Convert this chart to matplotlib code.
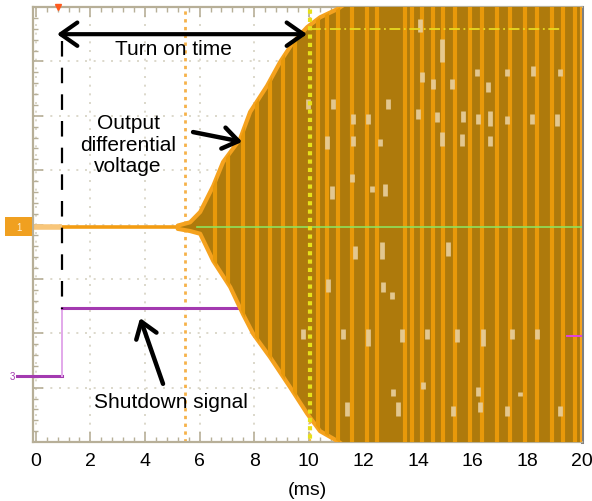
import numpy as np
import matplotlib
matplotlib.use("Agg")
import matplotlib.pyplot as plt
from matplotlib.patches import Polygon, Rectangle
from matplotlib.ticker import MultipleLocator

plt.rcParams['font.family'] = ['Liberation Sans', 'DejaVu Sans']

# ---------------- data (time in ms, vertical in scope divisions) ----------------
xtick_values = [0, 2, 4, 6, 8, 10, 12, 14, 16, 18, 20]
x_label = "(ms)"

# output differential voltage envelope
env_up_t = [5.2, 5.65, 6.02, 6.50, 6.86, 7.48, 7.85, 8.47, 8.95, 9.42, 9.94, 10.41, 11.04, 11.4, 20.0]
env_up_v = [-0.02, 0.04, 0.23, 0.71, 1.15, 1.57, 2.07, 2.55, 2.99, 3.35, 3.63, 3.81, 3.96, 4.08, 4.08]
env_lo_t = [5.2, 5.65, 6.02, 6.50, 7.12, 7.59, 7.96, 8.58, 9.31, 9.94, 10.41, 11.04, 11.33, 20.0]
env_lo_v = [-0.08, -0.12, -0.17, -0.67, -1.15, -1.65, -2.01, -2.44, -2.99, -3.48, -3.80, -3.98, -4.08, -4.08]

baseline_t = [-0.1, 5.6]
baseline_v = -0.05

# bright aliasing stripes inside the envelope
stripe_t = [6.57, 7.04, 7.59, 8.11, 8.58, 9.06, 9.50, 10.34, 10.67, 11.07, 11.59, 12.14,
            12.51, 13.53, 13.78, 14.15, 14.55, 14.92, 15.36, 15.91, 16.35, 16.90, 17.38,
            17.92, 18.36, 18.91, 19.32, 19.75]

# light spots inside the envelope
patch_t = [9.97, 10.89, 11.62, 12.17, 10.67, 11.62, 12.61, 12.90, 10.85, 11.58, 12.32, 12.79,
           10.71, 11.70, 12.68, 12.72, 13.05, 15.10, 14.08, 14.88, 14.15, 14.55, 15.25, 16.16,
           16.57, 17.26, 18.22, 19.20, 14.00, 14.70, 15.65, 16.20, 16.64, 17.26, 18.18, 19.09,
           14.88, 15.61, 16.64, 9.79, 11.26, 12.17, 13.42, 14.33, 15.43, 16.38, 17.45, 18.36,
           11.40, 13.27, 15.29, 16.27, 17.26, 19.20, 13.09, 14.19, 16.20, 17.74]
patch_top = [2.31, 2.31, 2.03, 2.03, 1.63, 1.63, 1.57, 2.31, 0.71, 0.93, 0.71, 0.74,
             -1.00, -0.40, -0.32, -1.06, -1.24, -0.32, 3.78, 3.41, 2.80, 2.67, 2.67, 2.86,
             2.62, 2.86, 2.91, 2.86, 2.12, 2.07, 2.09, 2.03, 2.09, 1.99, 2.03, 2.03,
             1.70, 1.66, 1.63, -1.92, -1.92, -1.92, -1.92, -1.92, -1.92, -1.92, -1.92, -1.92,
             -3.26, -3.26, -3.34, -3.26, -3.34, -3.34, -3.02, -2.90, -2.99, -3.08]
patch_bot = [2.12, 2.12, 1.85, 1.85, 1.39, 1.44, 1.44, 2.12, 0.47, 0.78, 0.60, 0.52,
             -1.24, -0.63, -0.63, -1.24, -1.37, -0.58, 3.54, 2.99, 2.62, 2.49, 2.49, 2.73,
             2.44, 2.73, 2.73, 2.73, 1.94, 1.88, 1.88, 1.85, 1.81, 1.85, 1.85, 1.81,
             1.44, 1.44, 1.44, -2.10, -2.10, -2.23, -2.16, -2.10, -2.16, -2.23, -2.10, -2.10,
             -3.52, -3.52, -3.52, -3.45, -3.52, -3.52, -3.15, -3.02, -3.15, -3.15]

# shutdown signal (step)
sd_t = [-0.1, 0.97, 0.97, 7.4]
sd_v = [-2.79, -2.79, -1.535, -1.535]

# cursors / markers
cursor_orange_t = 5.47
cursor_yellow_t = 10.05
cursor_h_v = 3.59
cursor_h_t = [10.05, 19.2]
enable_line_t = 0.97
enable_line_v = [3.37, -1.55]

# annotations
turn_on_arrow_t = [0.78, 9.93]
turn_on_arrow_v = 3.50
turn_on_text = "Turn on time"
turn_on_text_pos = (5.03, 3.23)
out_text = "Output\ndifferential\nvoltage"
out_text_pos = (3.38, 1.48)
out_arrow_tail = (5.76, 1.70)
out_arrow_head = (7.56, 1.52)
sd_text = "Shutdown signal"
sd_text_pos = (4.96, -3.26)
sd_arrow_tail = (4.66, -2.93)
sd_arrow_head = (3.82, -1.72)

# ---------------- colours ----------------
C_DARK = '#AE7A0C'
C_EDGE = '#F5A21E'
C_STRIPE = '#E8990A'
C_LIGHT = '#E6CC98'
C_PURPLE = '#A33AB0'
C_FRAME = '#B7AF98'

# ---------------- figure ----------------
fig = plt.figure(figsize=(5.92, 5.02), dpi=100)
ax = fig.add_axes([33 / 592, 59 / 502, 549 / 592, 435 / 502])
ax.set_xlim(-0.1, 20.0)
ax.set_ylim(-4.0, 4.0)

# grid
ax.set_xticks(xtick_values)
ax.set_yticks(np.arange(-4, 5, 1))
ax.xaxis.set_minor_locator(MultipleLocator(0.4))
ax.yaxis.set_minor_locator(MultipleLocator(0.2))
ax.grid(True, which='major', color='#D6D2C2', linestyle=(0, (1.2, 4)), lw=1.2, zorder=0)
ax.set_axisbelow(True)
ax.set_yticklabels([])
ax.tick_params(axis='both', which='both', direction='in', color=C_FRAME,
               top=True, bottom=True, left=True, right=False)
ax.tick_params(axis='both', which='major', length=7, width=1.2)
ax.tick_params(axis='both', which='minor', length=3.5, width=1.0)
ax.tick_params(axis='x', which='major', labelsize=14, pad=7)
ax.tick_params(axis='y', which='both', labelleft=False)
for s in ['left', 'top', 'bottom']:
    ax.spines[s].set_color(C_FRAME)
    ax.spines[s].set_linewidth(1.6)
ax.spines['right'].set_color('#7E7E7E')
ax.spines['right'].set_linewidth(2.2)
ax.set_xlabel(x_label, fontsize=14, labelpad=9)

# orange cursor
ax.axvline(cursor_orange_t, color='#F6B24A', lw=2.0, linestyle=(0, (1.2, 1.6)), zorder=1)

# baseline trace before turn-on
ax.plot(baseline_t, [baseline_v, baseline_v], color='#F39C12', lw=2.6, zorder=2,
        solid_capstyle='butt')
ax.plot([-0.1, 0.97], [baseline_v, baseline_v], color='#F8C67A', lw=4, zorder=2,
        solid_capstyle='butt')

# shutdown signal
ax.plot(sd_t[0:2], sd_v[0:2], color=C_PURPLE, lw=2.2, zorder=2)
ax.plot(sd_t[1:3], sd_v[1:3], color='#E2A8EA', lw=1.4, zorder=2)
ax.plot(sd_t[2:4], sd_v[2:4], color=C_PURPLE, lw=2.2, zorder=2)

# envelope
poly_xy = np.column_stack([np.concatenate([env_up_t, env_lo_t[::-1]]),
                           np.concatenate([env_up_v, env_lo_v[::-1]])])
env_poly = Polygon(poly_xy, closed=True, facecolor=C_DARK, edgecolor=C_EDGE, lw=3.0, zorder=3,
                   joinstyle='round')
ax.add_patch(env_poly)

clip_poly = Polygon(poly_xy, closed=True, transform=ax.transData)

st = ax.vlines(stripe_t, -4.1, 4.1, colors=C_STRIPE, lw=3.0, zorder=4)
st.set_clip_path(clip_poly)

pt = ax.vlines(patch_t, patch_bot, patch_top, colors=C_LIGHT, lw=3.4, zorder=4, alpha=0.95)
pt.set_clip_path(clip_poly)

# green centre line
gl, = ax.plot([5.9, 20.0], [baseline_v, baseline_v], color='#8EE25C', lw=1.2, zorder=5)
gl.set_clip_path(clip_poly)

# yellow cursor inside envelope
yc, = ax.plot([cursor_yellow_t, cursor_yellow_t], [-4.1, 4.1], color='#E6E01A', lw=3,
              linestyle=(0, (1.0, 1.0)), zorder=5)
ax.plot([cursor_yellow_t, cursor_yellow_t], [-4.1, 4.1], color='#F6C04A', lw=1.6,
        linestyle=(0, (1.0, 1.6)), zorder=2)
ax.plot(cursor_h_t, [cursor_h_v, cursor_h_v], color='#E8D820', lw=1.3,
        linestyle=(0, (6, 2, 1, 2)), zorder=5)

# black dashed enable line
ax.plot([enable_line_t, enable_line_t], enable_line_v, color='black', lw=1.6,
        linestyle=(0, (7, 5)), zorder=6)

# channel markers
ax.add_patch(Rectangle((-1.12, -0.22), 0.99, 0.36, facecolor='#F0A020', edgecolor='none',
                       clip_on=False, zorder=6, transform=ax.transData))
ax.text(-0.62, -0.05, '1', color='#FFF2D8', fontsize=7, ha='center', va='center',
        clip_on=False, zorder=7)
ax.plot([-0.68, -0.1], [-2.79, -2.79], color=C_PURPLE, lw=2.2, clip_on=False, zorder=6)
ax.text(-0.75, -2.79, '3', color=C_PURPLE, fontsize=7, ha='right', va='center',
        clip_on=False, zorder=7)
ax.plot([19.45, 19.95], [-2.05, -2.05], color='#E040E0', lw=1.4, zorder=6)
ax.plot([0.82], [4.0], marker='v', color='#FF5A1E', ms=5, clip_on=False, zorder=7)

# annotations
ax.annotate('', xy=(turn_on_arrow_t[0], turn_on_arrow_v),
            xytext=(turn_on_arrow_t[1], turn_on_arrow_v),
            arrowprops=dict(arrowstyle='<->,head_length=0.5,head_width=0.35',
                            lw=3, color='black', mutation_scale=24,
                            shrinkA=0, shrinkB=0), zorder=8)
ax.text(*turn_on_text_pos, turn_on_text, fontsize=15, ha='center', va='center', zorder=8)
ax.text(*out_text_pos, out_text, fontsize=15, ha='center', va='center', linespacing=1.15,
        zorder=8)
ax.annotate('', xy=out_arrow_head, xytext=out_arrow_tail,
            arrowprops=dict(arrowstyle='->,head_length=0.5,head_width=0.35', lw=3.2,
                            color='black', mutation_scale=22, shrinkA=0, shrinkB=0),
            zorder=8)
ax.text(*sd_text_pos, sd_text, fontsize=15, ha='center', va='center', zorder=8)
ax.annotate('', xy=sd_arrow_head, xytext=sd_arrow_tail,
            arrowprops=dict(arrowstyle='->,head_length=0.5,head_width=0.35', lw=3.2,
                            color='black', mutation_scale=22, shrinkA=0, shrinkB=0),
            zorder=8)

fig.savefig('out.png', dpi=100)
